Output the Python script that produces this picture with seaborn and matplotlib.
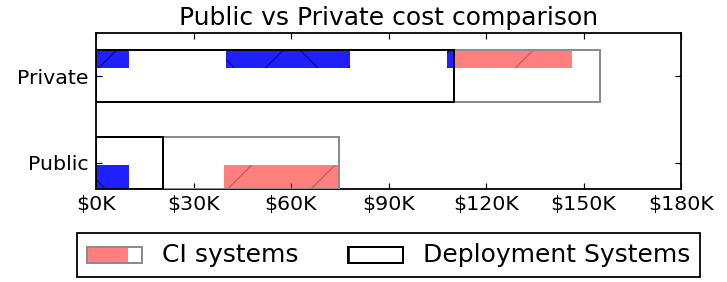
import numpy as np
import pandas as pd
import matplotlib
matplotlib.use('Agg')
import matplotlib.pyplot as plt
import seaborn as sns
from matplotlib.patches import Rectangle, Patch
from matplotlib.ticker import FuncFormatter

# costs in $K
categories = ['Private', 'Public']
deploy_cost = [110, 20.7]
ci_cost = [45, 54.1]          # stacked after the deployment cost

# highlighted pieces inside the bars
deploy_part_cat = ['Private', 'Private', 'Private', 'Public']
deploy_part_start = [0, 40, 108, 0]
deploy_part_width = [10, 38.2, 2, 10]
ci_part_cat = ['Private', 'Public']
ci_part_start = [110, 39.5]
ci_part_width = [36.6, 35.3]

x_ticks = [0, 30, 60, 90, 120, 150, 180]
legend_labels = ['CI systems', 'Deployment Systems']

DPI = 250


def px(v):
    # pixels -> points at this dpi
    return v * 72 / DPI


plt.rcParams.update({
    'font.family': 'DejaVu Sans',
    'hatch.linewidth': px(1.3),
    'axes.linewidth': px(1.8),
    'xtick.direction': 'in', 'ytick.direction': 'in',
    'xtick.top': True, 'ytick.right': True,
    'xtick.major.size': px(6), 'ytick.major.size': px(6),
    'xtick.major.width': px(1.2), 'ytick.major.width': px(1.2),
    'xtick.major.pad': px(6), 'ytick.major.pad': px(7),
})

fig = plt.figure(figsize=(727 / DPI, 282 / DPI), dpi=DPI)
ax = fig.add_axes([96 / 727, 1 - 189 / 282, (681 - 96) / 727, (189 - 33) / 282])

df = pd.DataFrame({'system': categories,
                   'deploy': deploy_cost,
                   'total': np.add(deploy_cost, ci_cost)})

# outlines: total (grey) then deployment (black) on top
sns.barplot(data=df, x='total', y='system', order=categories, orient='h',
            color='white', saturation=1, edgecolor='0.55', linewidth=px(2),
            width=0.6, errorbar=None, ax=ax)
sns.barplot(data=df, x='deploy', y='system', order=categories, orient='h',
            color='white', saturation=1, edgecolor='black', linewidth=px(2),
            width=0.6, errorbar=None, ax=ax)
for p in ax.patches:
    p.set_facecolor('none')
    p.set_zorder(3)

# pieces sit at the top of the Private bar and the bottom of the Public bar
piece_y = {'Private': (-0.2, 0.2), 'Public': (1.16, 0.28)}

for c, s, w in zip(deploy_part_cat, deploy_part_start, deploy_part_width):
    yc, h = piece_y[c]
    ax.barh(yc, w, left=s, height=h, facecolor=(0.05, 0.05, 1, 0.92),
            edgecolor=(0, 0, 0.45, 0.7), linewidth=0, hatch='x', zorder=2)
for c, s, w in zip(ci_part_cat, ci_part_start, ci_part_width):
    yc, h = piece_y[c]
    ax.barh(yc, w, left=s, height=h, facecolor=(1, 0, 0, 0.5),
            edgecolor=(0.55, 0.3, 0.3, 0.6), linewidth=0, hatch='/', zorder=2)

ax.set_xlim(0, 180)
ax.set_ylim(1.3, -0.5)
ax.set_xticks(x_ticks)
ax.xaxis.set_major_formatter(FuncFormatter(lambda v, _: '$%dK' % v))
ax.tick_params(labelsize=px(20.5))
ax.set(xlabel='', ylabel='')
ax.set_title('Public vs Private cost comparison', fontsize=px(25), pad=px(8))


class PartialHandler:
    def __init__(self, frac, fill_kw, edge):
        self.frac = frac
        self.fill_kw = fill_kw
        self.edge = edge

    def legend_artist(self, legend, orig_handle, fontsize, handlebox):
        x0, y0 = handlebox.xdescent, handlebox.ydescent
        w, h = handlebox.width, handlebox.height
        fill = Rectangle((x0, y0), w * self.frac, h, linewidth=0,
                         transform=handlebox.get_transform(), **self.fill_kw)
        outline = Rectangle((x0, y0), w, h, facecolor='none', edgecolor=self.edge,
                            linewidth=px(2), transform=handlebox.get_transform())
        handlebox.add_artist(fill)
        handlebox.add_artist(outline)
        return outline


h_ci = Patch()
h_dep = Patch()
leg = ax.legend([h_ci, h_dep], legend_labels, loc='center',
                bbox_to_anchor=(0.5, -0.423), ncol=2, fancybox=False,
                edgecolor='black', framealpha=1, fontsize=px(25),
                handlelength=2.2, handleheight=0.6, handletextpad=0.8,
                columnspacing=2.0, borderpad=0.4,
                handler_map={
                    h_ci: PartialHandler(0.75, dict(facecolor=(1, 0, 0, 0.5),
                                                    edgecolor=(0.55, 0.3, 0.3, 0.6),
                                                    hatch='/'), '0.55'),
                    h_dep: PartialHandler(0.03, dict(facecolor=(0, 0, 1, 0.9)), 'black'),
                })
leg.get_frame().set_linewidth(px(1.8))

fig.savefig('out.png', dpi=DPI)
